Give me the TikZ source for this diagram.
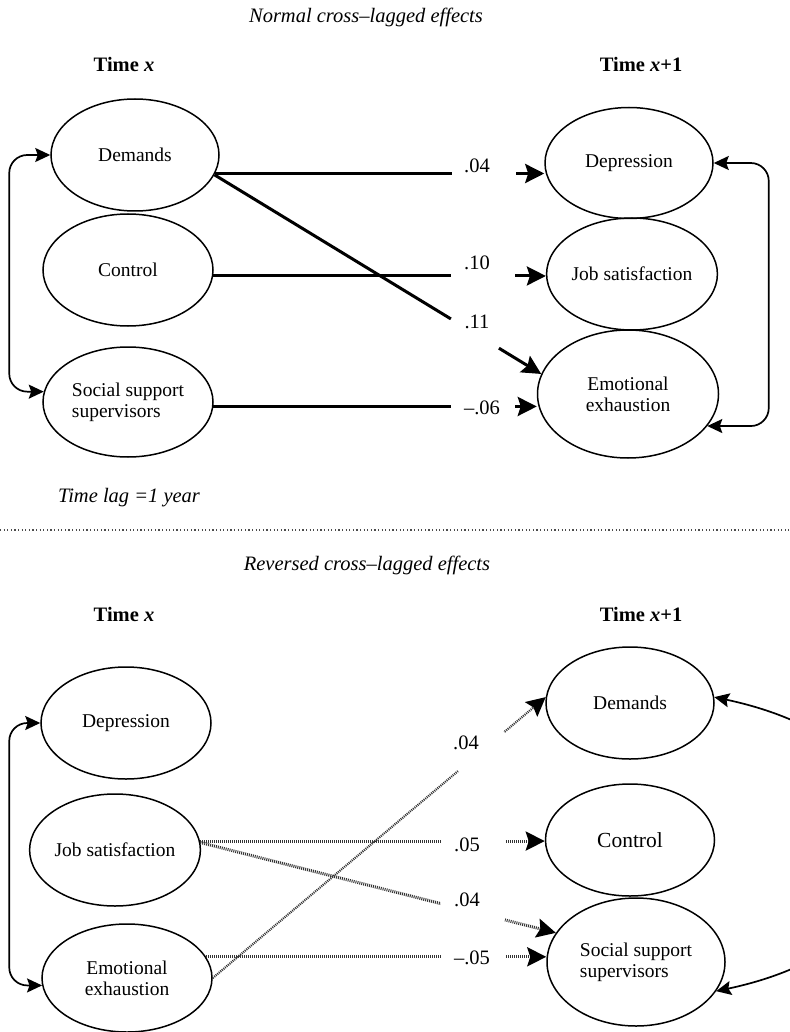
\documentclass[tikz,border=0pt]{standalone}
\usepackage{fontspec}
\setmainfont{Liberation Serif}
\usetikzlibrary{shapes.geometric,arrows.meta}
\begin{document}
\begin{tikzpicture}[x=1pt,y=-1pt]

	\tikzstyle{latent}=[ellipse,draw=black,line width=1.5pt,inner sep=0pt,
		align=center,font=\fontsize{19.5}{21}\selectfont]
	\tikzstyle{effect}=[font=\fontsize{20.5}{22}\selectfont]
	\tikzstyle{heading}=[font=\fontsize{20.5}{22}\selectfont\itshape]
	\tikzstyle{timelabel}=[font=\fontsize{20.5}{22}\selectfont\bfseries]
	\tikzstyle{gap}=[fill=white,inner sep=0pt,minimum height=8pt,sloped]
	\tikzstyle{normal}=[line width=3pt,-{Stealth[length=19pt,width=19pt,inset=3pt]}]
	\tikzstyle{reversed}=[line width=3pt,draw=black!80,dash pattern=on 1pt off 1pt,
		-{Stealth[length=19pt,width=19pt,inset=3pt,black]}]
	\tikzstyle{covar}=[line width=1.7pt,rounded corners=18pt,
		{Stealth[length=15pt,width=14pt,inset=2.5pt]}-{Stealth[length=15pt,width=14pt,inset=2.5pt]}]
	\tikzstyle{sepline}=[line width=1.2pt,black!70,dash pattern=on 1.2pt off 2.4pt]

	\useasboundingbox (0,0) rectangle (789,1032);

	\node[heading]	(title1)	at (366,17)	{Normal cross–lagged effects};
	\node[timelabel]	(timex1)	at (124,64)	{Time \textit{x}};
	\node[timelabel]	(timey1)	at (641,64)	{Time \textit{x}+1};

	\node[latent,minimum width=168pt,minimum height=112pt]	(dem)	at (135,155)	{Demands};
	\node[latent,minimum width=170pt,minimum height=112pt]	(ctl)	at (128,270)	{Control};
	\node[latent,minimum width=170pt,minimum height=110pt,align=left]	(ssup)	at (128,402)	{Social support\\supervisors};
	\node[latent,minimum width=168pt,minimum height=111pt]	(depr)	at (629,163)	{Depression};
	\node[latent,minimum width=169pt,minimum height=112pt]	(jsat)	at (632,274)	{Job satisfaction};
	\node[latent,minimum width=181pt,minimum height=128pt]	(emex)	at (628,394)	{Emotional\\exhaustion};

	\draw[normal] (dem.-13) -- node[gap,pos=0.816,minimum width=64pt]{} (dem.-13 -| depr.west);
	\draw[normal] (dem.-14) -- node[gap,pos=0.797,minimum width=56pt]{} (emex.167);
	\draw[normal] (ctl.-4) -- node[gap,pos=0.81,minimum width=64pt]{} (ctl.-4 -| jsat.west);
	\draw[normal] (ssup.-3) -- node[gap,pos=0.835,minimum width=64pt]{} (ssup.-3 -| emex.west);

	\node[effect]	(w1)	at (477,166)	{.04};
	\node[effect]	(w2)	at (477,263)	{.10};
	\node[effect]	(w3)	at (477,322)	{.11};
	\node[effect]	(w4)	at (482,408)	{–.06};

	\draw[covar] (dem.west) -- ++(-41,0) |- (ssup.173);
	\draw[covar] (depr.east) -- ++(55,0) |- (emex.-22);

	\node[heading]	(lag)	at (129,498)	{Time lag =1 year};
	\draw[sepline] (0,530) -- (789,530);

	\node[heading]	(title2)	at (367,565)	{Reversed cross–lagged effects};
	\node[timelabel]	(timex2)	at (124,614)	{Time \textit{x}};
	\node[timelabel]	(timey2)	at (641,614)	{Time \textit{x}+1};

	\node[latent,minimum width=170pt,minimum height=112pt]	(deprB)	at (126,723)	{Depression};
	\node[latent,minimum width=170pt,minimum height=112pt]	(jsatB)	at (115,850)	{Job satisfaction};
	\node[latent,minimum width=170pt,minimum height=108pt]	(emexB)	at (127,978)	{Emotional\\exhaustion};
	\node[latent,minimum width=168pt,minimum height=112pt]	(demB)	at (630,703)	{Demands};
	\node[latent,minimum width=169pt,minimum height=112pt,font=\fontsize{21.5}{23}\selectfont]	(ctlB)	at (630,840)	{Control};
	\node[latent,minimum width=178pt,minimum height=128pt,align=left]	(ssupB)	at (636,962)	{Social support\\supervisors};

	\draw[reversed] (jsatB.6) -- node[gap,pos=0.792,minimum width=65pt]{} (jsatB.6 -| ctlB.west);
	\draw[reversed] (jsatB.5) -- node[gap,pos=0.766,minimum width=66pt]{} (ssupB.160);
	\draw[reversed] (emexB.15) -- node[gap,pos=0.785,minimum width=65pt]{} (emexB.15 -| ssupB.west);
	\draw[reversed,line width=2.2pt] (emexB.east) -- node[gap,pos=0.806,minimum width=60pt]{} (demB.176);

	\node[effect]	(w5)	at (466,743)	{.04};
	\node[effect]	(w6)	at (467,845)	{.05};
	\node[effect]	(w7)	at (467,900)	{.04};
	\node[effect]	(w8)	at (472,958)	{–.05};

	\draw[covar] (deprB.west) -- ++(-31,0) |- (emexB.185);
	\draw[covar] (demB.4) to[out=-12,in=12,looseness=2.1] (ssupB.-20);

\end{tikzpicture}
\end{document}
